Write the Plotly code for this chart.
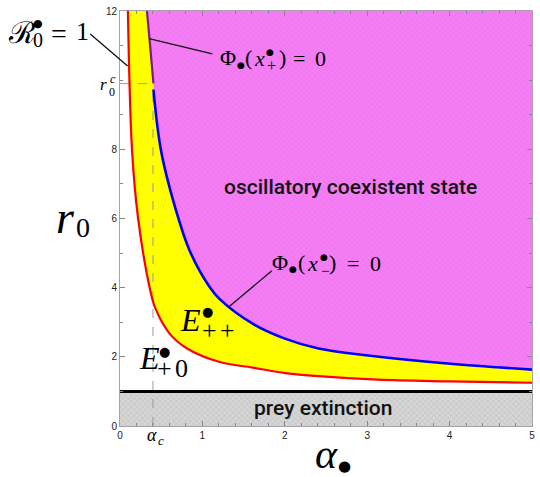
import plotly.graph_objects as go

# ---- parameter plane data (alpha_bullet, r0) ----
alpha_min, alpha_max = 0.0, 5.0
r0_min, r0_max = 0.0, 12.0

# R0 = 1 threshold curve (red)
red_alpha = [0.096, 0.147, 0.22, 0.36, 0.43, 0.61, 0.81, 1.21, 1.61, 2.01, 2.41, 3.13, 4.0, 5.0]
red_r0 = [12.0, 7.94, 6.0, 4.0, 3.4, 2.65, 2.25, 1.85, 1.69, 1.53, 1.44, 1.34, 1.29, 1.25]

# Phi(x_+) = 0 branch (purple, above r0^c)
plus_alpha = [0.327, 0.358, 0.406]
plus_r0 = [12.0, 11.2, 9.91]

# Phi(x_-) = 0 branch (blue, below r0^c)
minus_alpha = [0.406, 0.50, 0.707, 0.847, 1.09, 1.21, 1.61, 2.01, 2.41, 3.01, 4.01, 5.0]
minus_r0 = [9.73, 7.94, 6.02, 5.06, 4.01, 3.67, 2.96, 2.52, 2.24, 2.04, 1.80, 1.63]

# critical point and prey-extinction level
alpha_c = 0.4
r0_c = 9.9
prey_level = 1.0

# tick labels
x_tickvals = [0, 1, 2, 3, 4, 5]
x_ticktext = ["0", "1", "2", "3", "4", "5"]
y_tickvals = [0, 2, 4, 6, 8, 12]
y_ticktext = ["0", "2", "4", "6", "8", "12"]

SERIF = "Liberation Serif"
SANS = "Liberation Sans"
BULLET_FONT = "DejaVu Sans"

# plot-area geometry in pixels (540 x 477 page)
L, R, T, B = 120, 5, 9, 51
W_PX, H_PX = 540, 477
PW, PH = W_PX - L - R, H_PX - T - B
BOTTOM = H_PX - B


def px(xp, yp):
    return (xp - L) / PW, (BOTTOM - yp) / PH


fig = go.Figure()

# baseline (red curve) for the yellow band fill
fig.add_trace(go.Scatter(x=red_alpha, y=red_r0, mode="lines",
                         line=dict(width=0, shape="spline", color="red"),
                         hoverinfo="skip", showlegend=False))
# yellow band between R0=1 and Phi=0
boundary_alpha = plus_alpha + minus_alpha
boundary_r0 = plus_r0 + minus_r0
fig.add_trace(go.Scatter(x=boundary_alpha, y=boundary_r0, mode="lines",
                         line=dict(width=0, shape="spline", color="blue"),
                         fill="tonexty", fillcolor="#ffff00",
                         hoverinfo="skip", showlegend=False))
# oscillatory region (pink, textured)
fig.add_trace(go.Scatter(x=[plus_alpha[0], alpha_max], y=[r0_max, r0_max], mode="lines",
                         line=dict(width=0, color="#f47ef4"),
                         fill="tonexty", fillcolor="#f47ef4",
                         fillpattern=dict(shape="x", bgcolor="#f47ef4", fgcolor="#e567e5",
                                          size=4, solidity=0.25),
                         hoverinfo="skip", showlegend=False))
# prey extinction band (grey, textured)
fig.add_trace(go.Scatter(x=[alpha_min, alpha_max, alpha_max, alpha_min],
                         y=[r0_min, r0_min, prey_level, prey_level], mode="lines",
                         line=dict(width=0, color="#cfcfcf"),
                         fill="toself", fillcolor="#d2d2d2",
                         fillpattern=dict(shape="x", bgcolor="#d6d6d6", fgcolor="#aaaaaa",
                                          size=4, solidity=0.3),
                         hoverinfo="skip", showlegend=False))

# dashed guides at the critical point
fig.add_trace(go.Scatter(x=[alpha_c, alpha_c], y=[r0_min, r0_c], mode="lines",
                         line=dict(color="#9a9a9a", width=1, dash="dash"),
                         hoverinfo="skip", showlegend=False))
fig.add_trace(go.Scatter(x=[alpha_min, alpha_c], y=[r0_c, r0_c], mode="lines",
                         line=dict(color="#9a9a9a", width=1, dash="dash"),
                         hoverinfo="skip", showlegend=False))

# boundary curves
fig.add_trace(go.Scatter(x=red_alpha, y=red_r0, mode="lines",
                         line=dict(color="#ff0000", width=2.2, shape="spline"),
                         hoverinfo="skip", showlegend=False))
fig.add_trace(go.Scatter(x=plus_alpha, y=plus_r0, mode="lines",
                         line=dict(color="#7d1a8c", width=2.2, shape="spline"),
                         hoverinfo="skip", showlegend=False))
fig.add_trace(go.Scatter(x=minus_alpha, y=minus_r0, mode="lines",
                         line=dict(color="#0000ff", width=2.6, shape="spline"),
                         hoverinfo="skip", showlegend=False))
fig.add_trace(go.Scatter(x=[alpha_min, alpha_max], y=[prey_level, prey_level], mode="lines",
                         line=dict(color="#000000", width=3),
                         hoverinfo="skip", showlegend=False))

annotations = []


def label(text, xp, yp, size, family=SERIF, color="#000000", weight=None):
    x, y = px(xp, yp)
    font = dict(family=family, size=size, color=color)
    if weight is not None:
        font["weight"] = weight
    annotations.append(dict(text=text, x=x, y=y, xref="paper", yref="paper",
                            showarrow=False, xanchor="center", yanchor="middle",
                            font=font))


def bullet(xp, yp, size):
    label("\u25cf", xp, yp, size, family=BULLET_FONT)


# region names
label("oscillatory coexistent state", 352, 186, 21, family="Roboto", color="#111111", weight=500)
label("prey extinction", 324, 408, 21, family="Roboto", color="#111111", weight=500)

# axis titles
label("<i>r</i>", 65, 216, 46)
label("0", 83, 227, 28)
label("<i>α</i>", 328, 454, 42)
bullet(346, 466, 15)

# special tick labels
label("<i>α</i>", 152, 435, 18)
label("<i>c</i>", 161.5, 441, 13)
label("<i>r</i>", 103.5, 83, 17)
label("0", 112, 90, 12)
label("<i>c</i>", 113, 77, 12)

# equilibria
label("<i>E</i>", 191.5, 319, 32)
bullet(208.5, 310.5, 13)
label("+", 210.5, 330, 26)
label("+", 228.5, 330, 26)
label("<i>E</i>", 149.5, 358, 32)
bullet(164.5, 351, 13)
label("+", 165, 368, 26)
label("0", 181.5, 368, 26)

# R0 = 1 label
label("\u211b", 21, 31, 30, family="DejaVu Serif")
bullet(37, 22, 11)
label("0", 37, 38, 20)
label("=", 58.5, 31.5, 28)
label("1", 82, 30, 26)

# Phi(x_+) = 0 label
label("Φ", 229, 56, 22)
bullet(241.5, 63.5, 9)
label("(", 249, 56, 22)
label("<i>x</i>", 261, 57, 22)
bullet(271.5, 50, 9)
label("+", 273, 64, 16)
label(")", 283.5, 56, 22)
label("=", 300, 57, 22)
label("0", 322, 57, 22)

# Phi(x_-) = 0 label
label("Φ", 281, 262, 22)
bullet(294, 268, 9)
label("(", 302.5, 262, 22)
label("<i>x</i>", 314, 263, 22)
bullet(325, 256, 9)
label("−", 326, 270, 15)
label(")", 334.5, 262, 22)
label("=", 355, 263, 22)
label("0", 377, 263, 22)

# leader lines
shapes = []


def leader(x0p, y0p, x1p, y1p):
    x0, y0 = px(x0p, y0p)
    x1, y1 = px(x1p, y1p)
    shapes.append(dict(type="line", xref="paper", yref="paper", x0=x0, y0=y0, x1=x1, y1=y1,
                       line=dict(color="#111111", width=1.3)))


leader(90, 32, 127.7, 64.3)
leader(213, 52, 149.3, 36.7)
leader(273, 270, 230, 306)

axis_common = dict(showline=True, linecolor="#a8a0ac", linewidth=1, mirror="ticks",
                   ticks="inside", ticklen=5, tickcolor="#888888", showgrid=False,
                   zeroline=False, tickfont=dict(family=SANS, size=10, color="#222222"))

fig.update_layout(
    width=W_PX, height=H_PX,
    margin=dict(l=L, r=R, t=T, b=B),
    paper_bgcolor="white", plot_bgcolor="white",
    xaxis=dict(range=[alpha_min, alpha_max], tickvals=x_tickvals, ticktext=x_ticktext,
               minor=dict(ticks="inside", ticklen=3, dtick=0.2, tickcolor="#888888"),
               **axis_common),
    yaxis=dict(range=[r0_min, r0_max], tickvals=y_tickvals, ticktext=y_ticktext,
               minor=dict(ticks="inside", ticklen=3, dtick=1, tickcolor="#888888"),
               **axis_common),
    annotations=annotations,
    shapes=shapes,
    showlegend=False,
)

fig.write_html("out.html")
